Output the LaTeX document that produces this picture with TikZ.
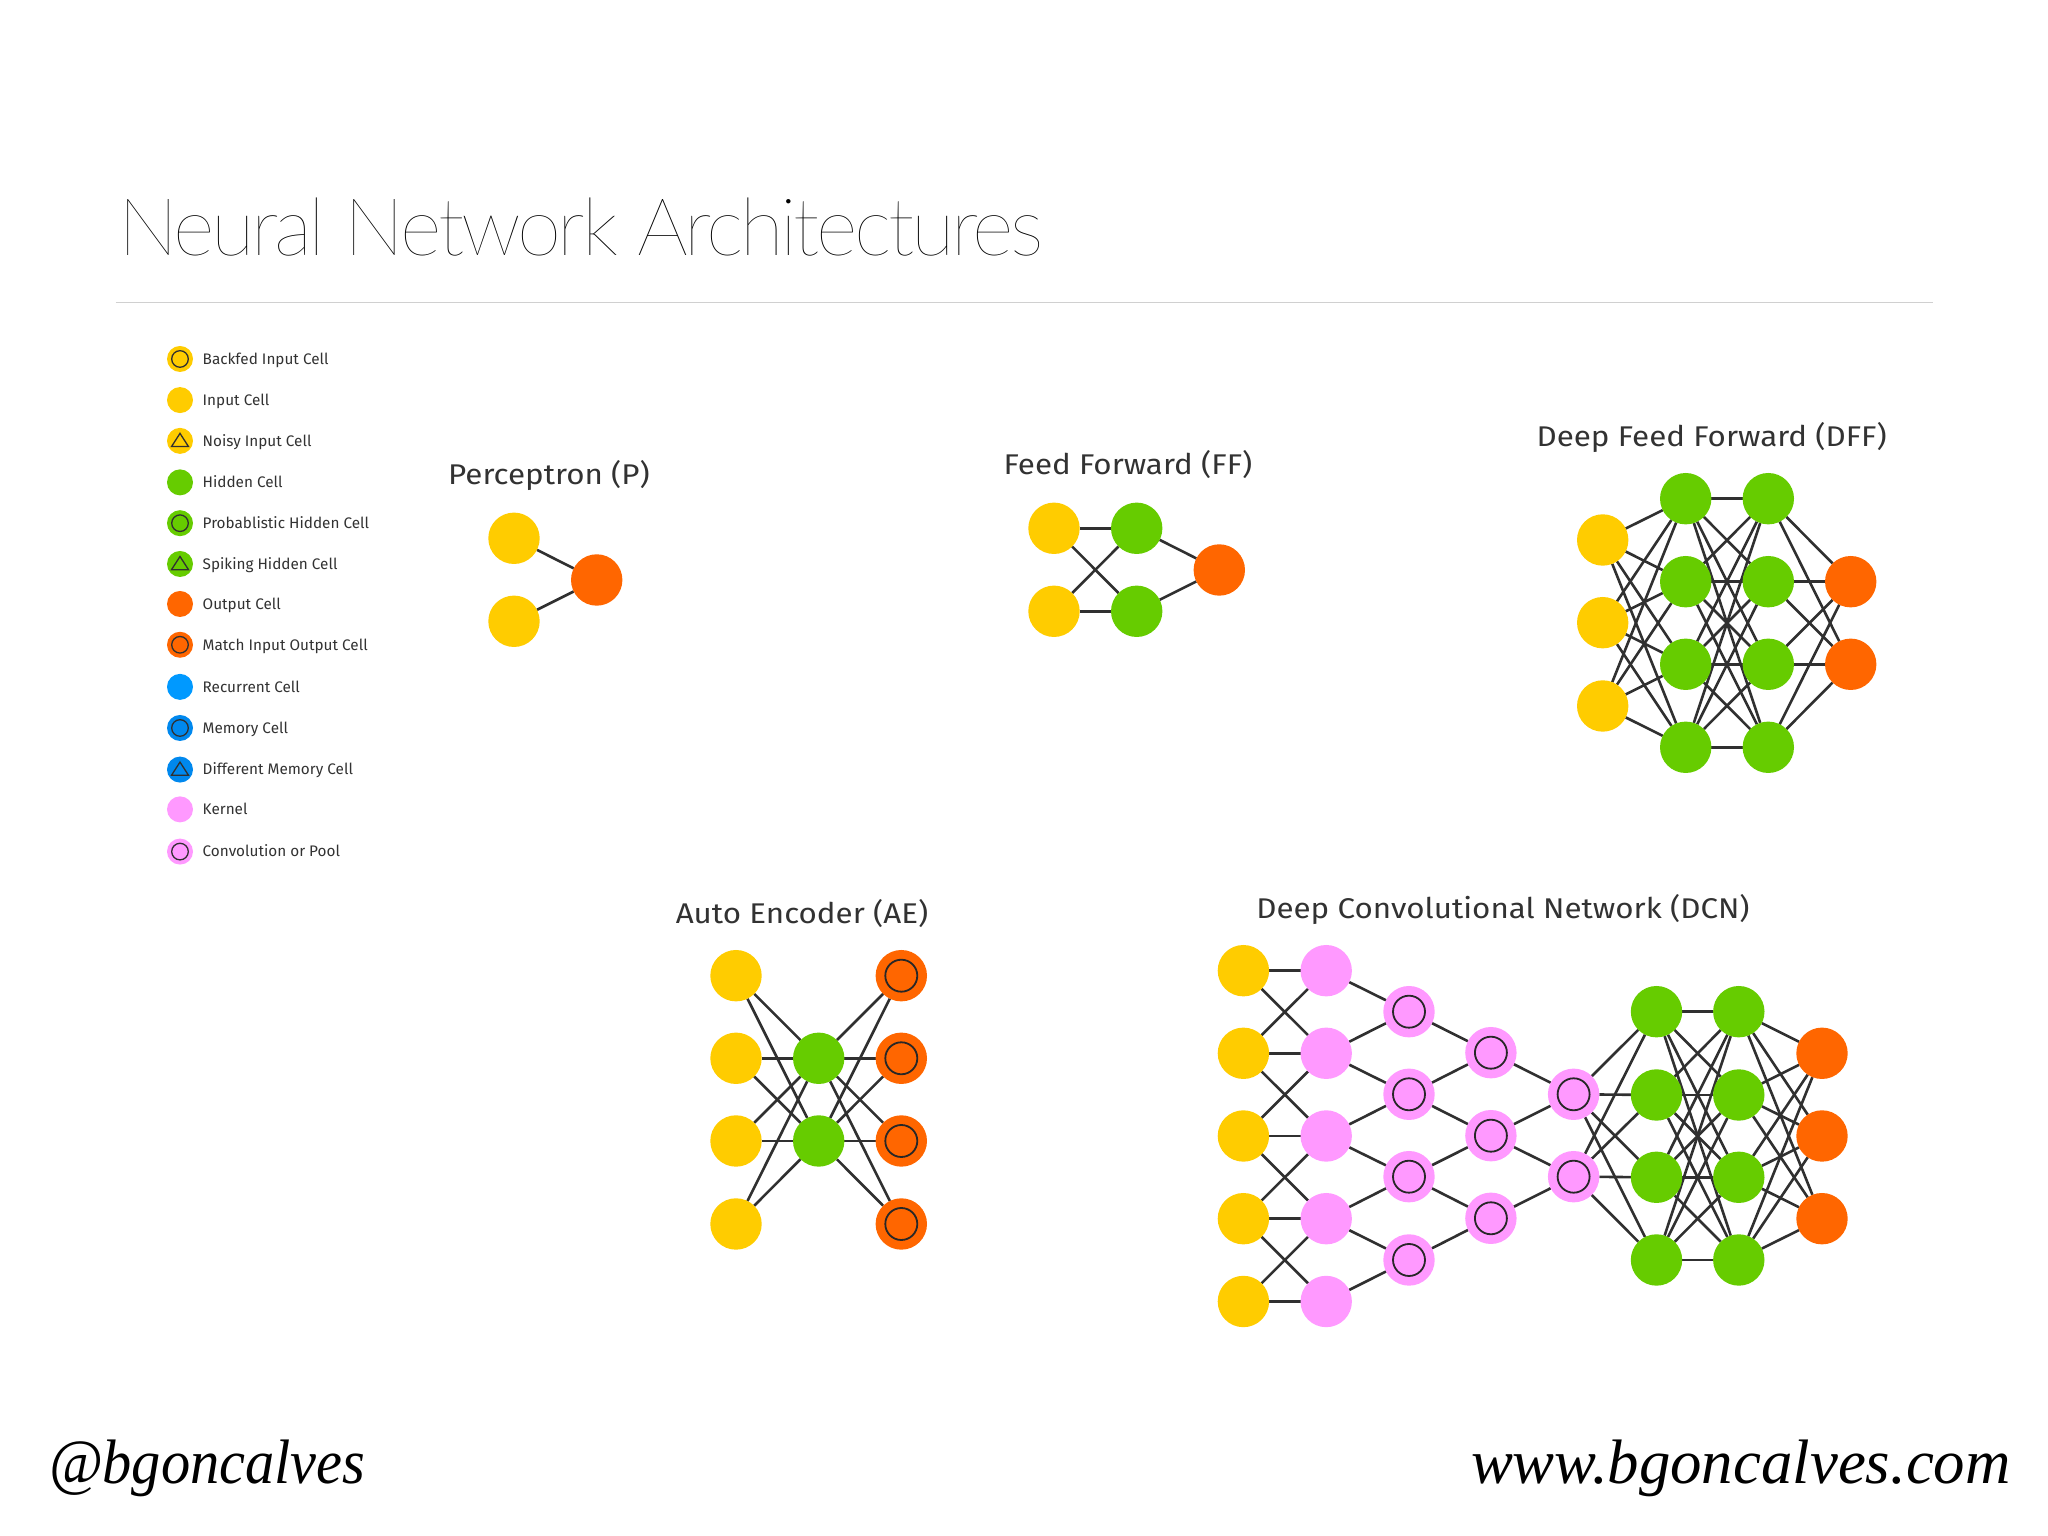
\documentclass[tikz,border=0pt]{standalone}
\usepackage{fontspec}
\setmainfont{Fira Sans}
\newfontfamily\headfont[LetterSpace=-4.2]{Lato Thin}
\newfontfamily\netfont[FakeStretch=1.1]{Fira Sans}
\newfontfamily\signfont{Liberation Serif}
\newfontfamily\handlefont[FakeStretch=0.93]{Liberation Serif}
\usetikzlibrary{backgrounds}
\definecolor{inputColor}{RGB}{255,204,0}
\definecolor{hiddenColor}{RGB}{102,204,0}
\definecolor{outputColor}{RGB}{255,102,0}
\definecolor{recurColor}{RGB}{0,153,255}
\definecolor{memColor}{RGB}{0,136,238}
\definecolor{kernelColor}{RGB}{255,153,255}
\definecolor{linkColor}{RGB}{48,48,48}
\definecolor{textColor}{RGB}{50,50,50}
\definecolor{ruleColor}{RGB}{208,208,208}
\tikzset{
  cell/.style={circle,inner sep=0pt,outer sep=0pt,minimum size=51.4pt},
  ring/.style={path picture={\draw[line width=1.8pt,linkColor!80!black] (path picture bounding box.center) circle (16pt);}},
  incell/.style={cell,fill=inputColor},
  hidcell/.style={cell,fill=hiddenColor},
  outcell/.style={cell,fill=outputColor},
  matchcell/.style={cell,fill=outputColor,ring},
  kercell/.style={cell,fill=kernelColor},
  convcell/.style={cell,fill=kernelColor,ring},
  link/.style={draw=linkColor,line width=2.6pt},
  legcell/.style={circle,inner sep=0pt,outer sep=0pt,minimum size=26pt},
  legplain/.style={},
  legring/.style={path picture={\draw[line width=1.3pt,linkColor] (path picture bounding box.center) circle (8.3pt);}},
  legtri/.style={path picture={\draw[line width=1.3pt,linkColor,line join=miter] ([shift={(0pt,7.5pt)}]path picture bounding box.center) -- ++(8.5pt,-13.2pt) -- ++(-17pt,0pt) -- cycle;}},
  legtext/.style={text=textColor,anchor=base west,inner sep=0pt,outer sep=0pt,font=\fontsize{15.3}{18}\selectfont},
  nettitle/.style={text=textColor,anchor=base,inner sep=0pt,outer sep=0pt,font=\netfont\fontsize{28.5}{34}\selectfont},
  signtext/.style={text=black,inner sep=0pt,outer sep=0pt,font=\itshape\fontsize{62.8}{70}\selectfont}
}
\begin{document}
\begin{tikzpicture}[x=1pt,y=1pt]
\path[use as bounding box] (0,0) rectangle (2048,1536);

\node[anchor=base west,inner sep=0pt,outer sep=0pt,font=\headfont\fontsize{80}{90}\selectfont] (head) at (118,1280) {Neural Network Architectures};
\coordinate (ruleL) at (115.6,1233.7);
\coordinate (ruleR) at (1933,1233.7);
\draw[ruleColor,line width=1pt] (ruleL) -- (ruleR);

\foreach \y/\col/\glyph/\lab [count=\i] in {
  1177/inputColor/legring/Backfed Input Cell,
  1135.9/inputColor/legplain/Input Cell,
  1095.1/inputColor/legtri/Noisy Input Cell,
  1053.6/hiddenColor/legplain/Hidden Cell,
  1012.8/hiddenColor/legring/Probablistic Hidden Cell,
  972/hiddenColor/legtri/Spiking Hidden Cell,
  932/outputColor/legplain/Output Cell,
  891.2/outputColor/legring/Match Input Output Cell,
  849.1/recurColor/legplain/Recurrent Cell,
  808/memColor/legring/Memory Cell,
  766.4/memColor/legtri/Different Memory Cell,
  726.6/kernelColor/legplain/Kernel,
  684.4/kernelColor/legring/Convolution or Pool}{
  \node[legcell,fill=\col,\glyph] (leg\i) at (180,\y) {};
  \node[legtext] (legname\i) at (202.7,\y-5.3) {\lab};
}

\node[nettitle] (ptitle) at (549,1051) {Perceptron (P)};
\foreach \y [count=\i] in {997.7,914.7} \node[incell] (pa\i) at (514,\y) {};
\node[outcell] (pb1) at (596.7,956) {};
\begin{pgfonlayer}{background}
\foreach \i in {1,2} \draw[link] (pa\i) -- (pb1);
\end{pgfonlayer}

\node[nettitle] (ftitle) at (1128,1061) {Feed Forward (FF)};
\foreach \y [count=\i] in {1007.7,924.7} {
  \node[incell] (fa\i) at (1054,\y) {};
  \node[hidcell] (fb\i) at (1136.7,\y) {};
}
\node[outcell] (fc1) at (1219.3,966) {};
\begin{pgfonlayer}{background}
\foreach \i in {1,2} {
  \foreach \j in {1,2} \draw[link] (fa\i) -- (fb\j);
  \draw[link] (fb\i) -- (fc1);
}
\end{pgfonlayer}

\node[nettitle] (dtitle) at (1711.7,1089.3) {Deep Feed Forward (DFF)};
\foreach \y [count=\i] in {996,913.3,830} \node[incell] (da\i) at (1602.7,\y) {};
\foreach \y [count=\i] in {1037.3,954.3,871.7,788.7} {
  \node[hidcell] (db\i) at (1685.7,\y) {};
  \node[hidcell] (dc\i) at (1768.3,\y) {};
}
\foreach \y [count=\i] in {954.3,871.7} \node[outcell] (dd\i) at (1850.7,\y) {};
\begin{pgfonlayer}{background}
\foreach \j in {1,...,4} {
  \foreach \i in {1,2,3} \draw[link] (da\i) -- (db\j);
  \foreach \i in {1,...,4} \draw[link] (db\i) -- (dc\j);
  \foreach \i in {1,2} \draw[link] (dc\j) -- (dd\i);
}
\end{pgfonlayer}

\node[nettitle] (atitle) at (802,612.7) {Auto Encoder (AE)};
\foreach \y [count=\i] in {560.3,477.7,395,312} {
  \node[incell] (aa\i) at (736,\y) {};
  \node[matchcell] (ac\i) at (901.3,\y) {};
}
\foreach \y [count=\i] in {477.7,395} \node[hidcell] (ab\i) at (818.7,\y) {};
\begin{pgfonlayer}{background}
\foreach \i in {1,...,4} \foreach \j in {1,2} {
  \draw[link] (aa\i) -- (ab\j);
  \draw[link] (ab\j) -- (ac\i);
}
\end{pgfonlayer}

\node[nettitle] (ctitle) at (1503,617.7) {Deep Convolutional Network (DCN)};
\foreach \y [count=\i] in {565.3,482.7,400,317.3,234.5} {
  \node[incell] (ca\i) at (1243.4,\y) {};
  \node[kercell] (cb\i) at (1326.2,\y) {};
}
\foreach \y [count=\i] in {524.3,441.7,359.3,276} \node[convcell] (cc\i) at (1409,\y) {};
\foreach \y [count=\i] in {483.3,400.3,317.7} \node[convcell] (cd\i) at (1490.9,\y) {};
\foreach \y [count=\i] in {441.7,359.3} \node[convcell] (ce\i) at (1573.6,\y) {};
\foreach \y [count=\i] in {524.3,441,358.7,276} {
  \node[hidcell] (cf\i) at (1656.5,\y) {};
  \node[hidcell] (cg\i) at (1738.8,\y) {};
}
\foreach \y [count=\i] in {482.7,400,317.3} \node[outcell] (ch\i) at (1822,\y) {};
\begin{pgfonlayer}{background}
\foreach \i in {1,...,5} \draw[link] (ca\i) -- (cb\i);
\foreach \i/\j in {1/2,2/1,2/3,3/2,3/4,4/3,4/5,5/4} \draw[link] (ca\i) -- (cb\j);
\foreach \i/\j in {1/1,2/1,2/2,3/2,3/3,4/3,4/4,5/4} \draw[link] (cb\i) -- (cc\j);
\foreach \i/\j in {1/1,2/1,2/2,3/2,3/3,4/3} \draw[link] (cc\i) -- (cd\j);
\foreach \i/\j in {1/1,2/1,2/2,3/2} \draw[link] (cd\i) -- (ce\j);
\foreach \j in {1,...,4} {
  \foreach \i in {1,2} \draw[link] (ce\i) -- (cf\j);
  \foreach \i in {1,...,4} \draw[link] (cf\i) -- (cg\j);
  \foreach \i in {1,2,3} \draw[link] (cg\j) -- (ch\i);
}
\end{pgfonlayer}

\node[signtext,anchor=base west,font=\handlefont\itshape\fontsize{62.8}{70}\selectfont] (handle) at (49,52) {@bgoncalves};
\node[signtext,anchor=base east,font=\signfont\itshape\fontsize{62.8}{70}\selectfont] (site) at (2010.6,52) {www.bgoncalves.com};
\end{tikzpicture}
\end{document}
